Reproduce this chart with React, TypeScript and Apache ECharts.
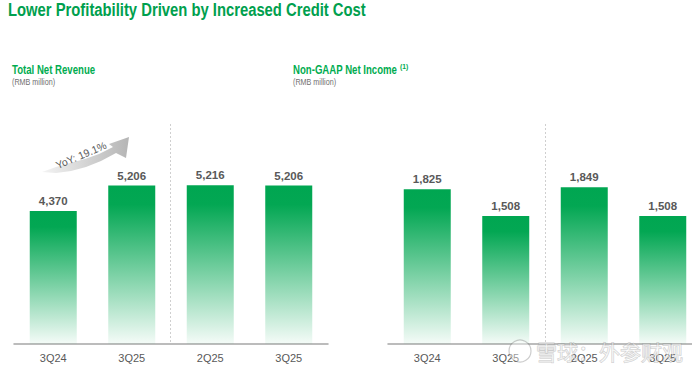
import React, { useEffect, useRef } from "react";
import * as echarts from "echarts";

const revenueCategories = ["3Q24", "3Q25", "2Q25", "3Q25"];
const revenueValues = [4370, 5206, 5216, 5206];
const incomeCategories = ["3Q24", "3Q25", "2Q25", "3Q25"];
const incomeValues = [1825, 1508, 1849, 1508];

const TITLE = "Lower Profitability Driven by Increased Credit Cost";
const LEFT_SUB = "Total Net Revenue";
const RIGHT_SUB = "Non-GAAP Net Income";
const UNIT = "(RMB million)";
const YOY = "YoY: 19.1%";
const WATERMARK = "雪球：外参财观";

const SANS = "'Liberation Sans', Arial, sans-serif";

const barGradient = () =>
  new echarts.graphic.LinearGradient(0, 0, 0, 1, [
    { offset: 0, color: "#00A651" },
    { offset: 0.12, color: "#03A753" },
    { offset: 1, color: "rgba(0,166,81,0.04)" },
  ]);

export default function App() {
  const ref = useRef<HTMLDivElement>(null);
  useEffect(() => {
    if (!ref.current) return;
    const chart = echarts.init(ref.current, null, { renderer: "svg" });
    const labelStyle = {
      show: true,
      position: "top",
      distance: 4,
      fontFamily: SANS,
      fontWeight: "bold",
      fontSize: 11.5,
      color: "#595959",
      formatter: (p: any) => Number(p.value).toLocaleString("en-US"),
    };
    const xAxisCommon = {
      type: "category",
      axisLine: { show: true, lineStyle: { color: "#a6a6a6", width: 1.5 } },
      axisTick: { show: false },
      axisLabel: { color: "#595959", fontFamily: SANS, fontSize: 11, margin: 8 },
    };
    chart.setOption({
      animation: false,
      backgroundColor: "#ffffff",
      grid: [
        { left: 14, width: 314, top: 131, height: 213 },
        { left: 388, width: 314, top: 132, height: 212 },
      ],
      xAxis: [
        { ...xAxisCommon, gridIndex: 0, data: revenueCategories },
        { ...xAxisCommon, gridIndex: 1, data: incomeCategories },
      ],
      yAxis: [
        { type: "value", gridIndex: 0, min: 0, max: 7000, show: false, splitLine: { show: false } },
        { type: "value", gridIndex: 1, min: 0, max: 2500, show: false, splitLine: { show: false } },
      ],
      series: [
        {
          type: "bar",
          xAxisIndex: 0,
          yAxisIndex: 0,
          data: revenueValues,
          barWidth: 47,
          itemStyle: { color: barGradient() },
          label: labelStyle,
        },
        {
          type: "bar",
          xAxisIndex: 1,
          yAxisIndex: 1,
          data: incomeValues,
          barWidth: 47,
          itemStyle: { color: barGradient() },
          label: labelStyle,
        },
      ],
      graphic: [
        {
          type: "text",
          x: 8,
          y: 0,
          scaleX: 0.78,
          style: { text: TITLE, fill: "#00A04E", font: `bold 19px ${SANS}` },
        },
        {
          type: "text",
          x: 12,
          y: 63,
          scaleX: 0.74,
          style: { text: LEFT_SUB, fill: "#00AC50", font: `bold 13px ${SANS}` },
        },
        {
          type: "text",
          x: 12,
          y: 78,
          scaleX: 0.8,
          style: { text: UNIT, fill: "#707070", font: `9px ${SANS}` },
        },
        {
          type: "text",
          x: 293,
          y: 63,
          scaleX: 0.74,
          style: { text: RIGHT_SUB, fill: "#00AC50", font: `bold 13px ${SANS}` },
        },
        {
          type: "text",
          x: 400,
          y: 62,
          scaleX: 0.85,
          style: { text: "(1)", fill: "#00AC50", font: `bold 8px ${SANS}` },
        },
        {
          type: "text",
          x: 293,
          y: 78,
          scaleX: 0.8,
          style: { text: UNIT, fill: "#707070", font: `9px ${SANS}` },
        },
        {
          type: "line",
          shape: { x1: 170.5, y1: 124, x2: 170.5, y2: 343 },
          style: { stroke: "#cfcfcf", lineWidth: 1, lineDash: [2, 2] },
        },
        {
          type: "line",
          shape: { x1: 545.5, y1: 124, x2: 545.5, y2: 343 },
          style: { stroke: "#cfcfcf", lineWidth: 1, lineDash: [2, 2] },
        },
        {
          type: "polygon",
          shape: {
            points: [
              [42, 172],
              [56, 173],
              [71, 171],
              [86, 167],
              [101, 161],
              [116, 153],
              [126, 158],
              [129, 137],
              [109, 144],
              [113, 147],
              [99, 154],
              [85, 159],
              [70, 163],
              [56, 167],
            ],
          },
          style: {
            fill: new echarts.graphic.LinearGradient(0, 0, 1, 0, [
              { offset: 0, color: "#f4f4f4" },
              { offset: 1, color: "#b5b5b5" },
            ]),
          },
        },
        {
          type: "text",
          x: 81,
          y: 155,
          rotation: (23 * Math.PI) / 180,
          style: {
            text: YOY,
            fill: "#595959",
            font: `10.5px ${SANS}`,
            align: "center",
            verticalAlign: "middle",
          },
        },
        {
          type: "circle",
          z: 100,
          shape: { cx: 520, cy: 351, r: 11 },
          style: { fill: "rgba(255,255,255,0.4)", stroke: "rgba(110,110,110,0.35)", lineWidth: 1.2 },
        },
        {
          type: "text",
          z: 100,
          x: 536,
          y: 351,
          style: {
            text: WATERMARK,
            fill: "rgba(255,255,255,0.5)",
            stroke: "rgba(110,110,110,0.35)",
            lineWidth: 1,
            font: `21px 'Noto Sans CJK SC', sans-serif`,
            verticalAlign: "middle",
          },
        },
      ],
    });
    return () => chart.dispose();
  }, []);
  return (
    <div style={{ width: 692, height: 371, position: "absolute", left: 0, top: 0, overflow: "hidden" }}>
      <div ref={ref} style={{ width: 720, height: 371 }} />
    </div>
  );
}
